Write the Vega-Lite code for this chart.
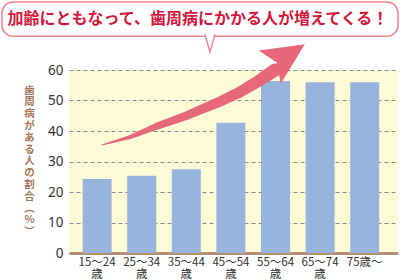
{
  "$schema": "https://vega.github.io/schema/vega-lite/v6.json",
  "width": 329,
  "height": 183,
  "autosize": {"type": "none"},
  "padding": {"left": 69, "top": 70, "right": 2, "bottom": 27},
  "background": "white",
  "config": {
    "view": {"fill": "#fdfcd6", "stroke": null},
    "font": "Noto Sans CJK JP",
    "axisY": {
      "grid": true, "gridDash": [4, 3], "gridColor": "#8a8a8a", "gridWidth": 1,
      "domain": false, "ticks": false, "labelPadding": 6, "labelFontSize": 13.5,
      "labelColor": "#333333", "labelFont": "Noto Sans", "labelOverlap": false
    }
  },
  "datasets": {
    "bars": [
      {"age": "15～24歳", "rate": 24.3},
      {"age": "25～34歳", "rate": 25.3},
      {"age": "35～44歳", "rate": 27.5},
      {"age": "45～54歳", "rate": 42.7},
      {"age": "55～64歳", "rate": 56.4},
      {"age": "65～74歳", "rate": 56},
      {"age": "75歳～", "rate": 56}
    ],
    "arrow": [
      {"u": 0.733, "rate": 35.4, "w": 1},
      {"u": 1.368, "rate": 38.0, "w": 4},
      {"u": 1.973, "rate": 41.6, "w": 7},
      {"u": 2.646, "rate": 45.1, "w": 8.5},
      {"u": 3.318, "rate": 49.2, "w": 10},
      {"u": 3.834, "rate": 52.8, "w": 11},
      {"u": 4.283, "rate": 56.7, "w": 12},
      {"u": 4.619, "rate": 60.0, "w": 13}
    ],
    "head": [{"u": 4.895, "rate": 64.7}],
    "box": [{"u": -1.502, "u2": 7.377, "rate": 82.3, "rate2": 71.1}],
    "tail": [{"u": 3.161, "rate": 68.7}],
    "headline": [{"u": 2.892, "rate": 76.7, "t": "加齢にともなって、歯周病にかかる人が増えてくる！"}]
  },
  "layer": [
    {
      "data": {"name": "bars"},
      "mark": {"type": "bar", "color": "#97b4dc"},
      "encoding": {
        "x": {
          "field": "age", "type": "nominal", "sort": null,
          "scale": {"paddingInner": 0.35, "paddingOuter": 0.363, "align": 0.42},
          "axis": {
            "title": null, "labelAngle": 0, "ticks": false,
            "domainColor": "#b38f76", "domainWidth": 3,
            "labelFontSize": 11.5, "labelColor": "#333333", "labelPadding": 3,
            "labelBaseline": "top", "labelLineHeight": 12, "labelOverlap": false,
            "labelExpr": "datum.label == '75歳～' ? datum.label : [replace(datum.label, '歳', ''), '歳']"
          }
        },
        "y": {
          "field": "rate", "type": "quantitative",
          "scale": {"domain": [0, 60], "nice": false},
          "axis": {
            "tickCount": 7,
            "title": ["歯", "周", "病", "が", "あ", "る", "人", "の", "割", "合", "︵", "%", "︶"],
            "titleAngle": 0, "titleX": -40, "titleY": 15, "titleAlign": "center", "titleBaseline": "top",
            "titleFontSize": 10.5, "titleLineHeight": 11.8, "titleColor": "#a3765a", "titleFontWeight": "bold"
          }
        }
      }
    },
    {
      "data": {"name": "arrow"},
      "mark": {"type": "trail", "color": "#e8687b"},
      "encoding": {
        "x": {"field": "u", "type": "quantitative", "scale": {"domain": [0, 7.377], "nice": false, "zero": false}, "axis": null},
        "y": {"field": "rate", "type": "quantitative"},
        "size": {"field": "w", "type": "quantitative", "scale": {"domain": [0, 14], "range": [0, 14]}, "legend": null}
      }
    },
    {
      "data": {"name": "head"},
      "mark": {"type": "point", "shape": "M1,0L-1,-0.95L-0.6,0L-1,0.95Z", "size": 1764, "angle": 326.7, "filled": true, "color": "#e8687b", "opacity": 1},
      "encoding": {
        "x": {"field": "u", "type": "quantitative", "scale": {"domain": [0, 7.377], "nice": false, "zero": false}, "axis": null},
        "y": {"field": "rate", "type": "quantitative"}
      }
    },
    {
      "data": {"name": "box"},
      "mark": {"type": "rect", "fill": "white", "stroke": "#ec8594", "strokeWidth": 1.5, "cornerRadius": 11},
      "encoding": {
        "x": {"field": "u", "type": "quantitative", "scale": {"domain": [0, 7.377], "nice": false, "zero": false}, "axis": null},
        "x2": {"field": "u2"},
        "y": {"field": "rate", "type": "quantitative"},
        "y2": {"field": "rate2"}
      }
    },
    {
      "data": {"name": "tail"},
      "mark": {"type": "point", "shape": "M-0.6,-1.1L0,1L0.6,-1.1", "size": 289, "fill": "white", "stroke": "#ec8594", "strokeWidth": 1.5, "opacity": 1, "fillOpacity": 1},
      "encoding": {
        "x": {"field": "u", "type": "quantitative", "scale": {"domain": [0, 7.377], "nice": false, "zero": false}, "axis": null},
        "y": {"field": "rate", "type": "quantitative"}
      }
    },
    {
      "data": {"name": "headline"},
      "mark": {"type": "text", "fontSize": 16, "fontWeight": "bold", "color": "#d3163c", "align": "center", "baseline": "middle"},
      "encoding": {
        "x": {"field": "u", "type": "quantitative", "scale": {"domain": [0, 7.377], "nice": false, "zero": false}, "axis": null},
        "y": {"field": "rate", "type": "quantitative"},
        "text": {"field": "t"}
      }
    }
  ],
  "resolve": {"scale": {"x": "independent"}, "axis": {"x": "independent"}}
}
